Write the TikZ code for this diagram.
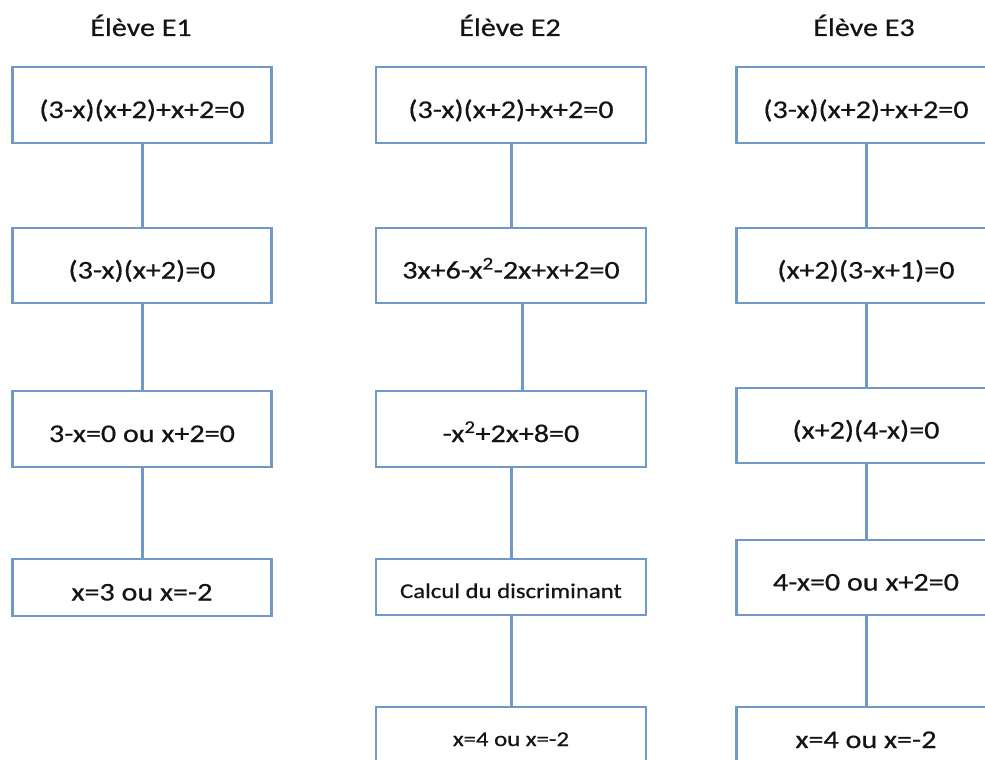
\documentclass[tikz,border=0pt]{standalone}
\usepackage{fontspec}
\setmainfont{Carlito}[FakeStretch=1.18,FakeBold=0.6]
\definecolor{boxblue}{RGB}{112,152,202}
\definecolor{txt}{RGB}{20,20,20}
\begin{document}
\begin{tikzpicture}[x=1pt,y=-1pt,
  bigtext/.style={font=\fontsize{25.5}{30}\selectfont, text height=26pt, text depth=0pt},
  smalltext/.style={font=\fontsize{21}{25}\selectfont, text height=22pt, text depth=0pt},
  stepbox/.style={draw=boxblue, line width=2.5pt, fill=white, inner sep=0pt,
    minimum width=259pt, minimum height=76pt, text=txt, bigtext},
  title/.style={anchor=base, text=txt, font=\fontsize{25.5}{30}\selectfont, inner sep=0pt},
  link/.style={draw=boxblue, line width=3pt}
]
\useasboundingbox (0,0) rectangle (985,760);
\clip (0,0) rectangle (985,760);
\fill[white] (0,0) rectangle (985,760);

% titles
\node[title] (t1) at (141,36) {Élève E1};
\node[title] (t2) at (510,36) {Élève E2};
\node[title] (t3) at (864,36) {Élève E3};

% column E1
\node[stepbox] (a1) at (142,105) {(3-x)(x+2)+x+2=0};
\node[stepbox, minimum height=75pt] (a2) at (142,265.5) {(3-x)(x+2)=0};
\node[stepbox] (a3) at (142,429) {3-x=0 ou x+2=0};
\node[stepbox, minimum height=57pt] (a4) at (142,587.5) {x=3 ou x=-2};

% column E2
\node[stepbox, minimum width=270pt] (b1) at (511,105) {(3-x)(x+2)+x+2=0};
\node[stepbox, minimum width=270pt, minimum height=75pt] (b2) at (511,265.5) {3x+6-x\textsuperscript{2}-2x+x+2=0};
\node[stepbox, minimum width=270pt] (b3) at (511,429) {-x\textsuperscript{2}+2x+8=0};
\node[stepbox, minimum width=270pt, minimum height=56pt, smalltext] (b4) at (511,587) {Calcul du discriminant};
\node[stepbox, minimum width=270pt, minimum height=56pt, smalltext] (b5) at (511,735) {x=4 ou x=-2};

% column E3
\node[stepbox] (c1) at (866,105) {(3-x)(x+2)+x+2=0};
\node[stepbox, minimum height=75pt] (c2) at (866,265.5) {(x+2)(3-x+1)=0};
\node[stepbox, minimum height=75pt] (c3) at (866,425.5) {(x+2)(4-x)=0};
\node[stepbox, minimum height=75pt] (c4) at (866,577.5) {4-x=0 ou x+2=0};
\node[stepbox, minimum height=56pt] (c5) at (866,735) {x=4 ou x=-2};

% connectors
\draw[link] (a1.south) -- (a2.north);
\draw[link] (a2.south) -- (a3.north);
\draw[link] (a3.south) -- (a4.north);

\draw[link] (b1.south) -- (b2.north);
\draw[link] ([xshift=11pt]b2.south) -- ([xshift=11pt]b3.north);
\draw[link] (b3.south) -- (b4.north);
\draw[link] (b4.south) -- (b5.north);

\draw[link] (c1.south) -- (c2.north);
\draw[link] (c2.south) -- (c3.north);
\draw[link] (c3.south) -- (c4.north);
\draw[link] (c4.south) -- (c5.north);
\end{tikzpicture}
\end{document}
